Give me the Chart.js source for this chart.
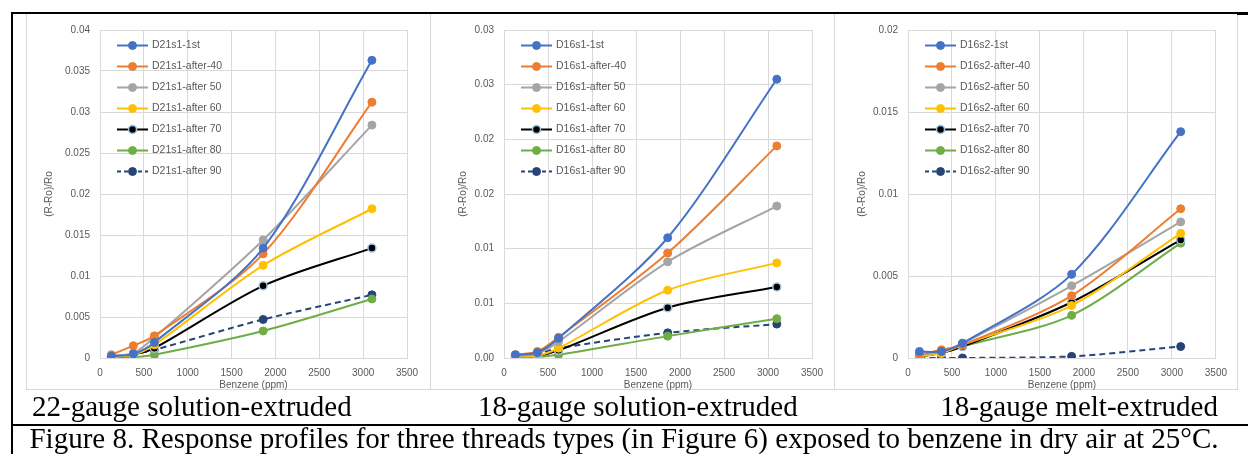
<!DOCTYPE html>
<html>
<head>
<meta charset="utf-8">
<script src="https://cdn.jsdelivr.net/npm/chart.js@4"></script>
<style>
  html, body { margin: 0; padding: 0; background: #fff; }
  #page { position: relative; width: 1248px; height: 454px; overflow: hidden; background: #fff; }
  .panel { position: absolute; top: 13px; height: 377px; box-sizing: border-box; border: 1px solid #d9d9d9; }
  .panel.joined { border-left: none; }
  .panel canvas { position: absolute; left: 0; top: 0; }
  .rule { position: absolute; background: #000; }
  .cap { position: absolute; font-family: "Liberation Serif", "Times New Roman", serif; color: #000;
         white-space: nowrap; font-size: 29px; line-height: 29px; }
</style>
</head>
<body>
<div id="page">
  <div class="panel" style="left:26px;width:405px;"><canvas id="c1"></canvas></div>
  <div class="panel joined" style="left:431px;width:404px;"><canvas id="c2"></canvas></div>
  <div class="panel joined" style="left:835px;width:403px;"><canvas id="c3"></canvas></div>

  <div class="rule" style="left:11px;top:12px;width:1237px;height:2px;"></div>
  <div class="rule" style="left:1237px;top:12px;width:11px;height:3px;"></div>
  <div class="rule" style="left:11px;top:12px;width:2px;height:442px;"></div>
  <div class="rule" style="left:11px;top:424px;width:1237px;height:2px;"></div>

  <div class="cap" style="left:32px;top:392px;">22-gauge solution-extruded</div>
  <div class="cap" style="left:478px;top:392px;">18-gauge solution-extruded</div>
  <div class="cap" style="right:30px;top:392px;">18-gauge melt-extruded</div>
  <div class="cap" style="left:0;width:1248px;top:424px;text-align:center;">Figure 8. Response profiles for three threads types (in Figure 6) exposed to benzene in dry air at 25°C.</div>
</div>

<script>
// benzene concentration (ppm), shared by all three threads
const benzenePpm = [130, 380, 620, 1860, 3100];

const xTicks = [0, 500, 1000, 1500, 2000, 2500, 3000, 3500];
const seriesNames = ['1st', 'after-40', 'after 50', 'after 60', 'after 70', 'after 80', 'after 90'];

// 22-gauge solution-extruded (D21s1)
const d21s1_1st = [0.0002, 0.0005, 0.0019, 0.0134, 0.0363];
const d21s1_40 = [0.0004, 0.0015, 0.0027, 0.0127, 0.0312];
const d21s1_50 = [0.0003, 0.0006, 0.0025, 0.0144, 0.0284];
const d21s1_60 = [0.0001, 0.0004, 0.0016, 0.0113, 0.0182];
const d21s1_70 = [0.0001, 0.0004, 0.0012, 0.0088, 0.0134];
const d21s1_80 = [0.0000, 0.0001, 0.0004, 0.0033, 0.0072];
const d21s1_90 = [0.0001, 0.0005, 0.0010, 0.0047, 0.0077];

// 18-gauge solution-extruded (D16s1)
const d16s1_1st = [0.0003, 0.0005, 0.0018, 0.0110, 0.0255];
const d16s1_40 = [0.0003, 0.0006, 0.0019, 0.0096, 0.0194];
const d16s1_50 = [0.0002, 0.0004, 0.0015, 0.0088, 0.0139];
const d16s1_60 = [0.0001, 0.0002, 0.0009, 0.0062, 0.0087];
const d16s1_70 = [0.0001, 0.0002, 0.0007, 0.0046, 0.0065];
const d16s1_80 = [0.0000, 0.0001, 0.0003, 0.0020, 0.0036];
const d16s1_90 = [0.0002, 0.0004, 0.0009, 0.0023, 0.0031];

// 18-gauge melt-extruded (D16s2)
const d16s2_1st = [0.0004, 0.0004, 0.0009, 0.0051, 0.0138];
const d16s2_40 = [0.0002, 0.0005, 0.0008, 0.0038, 0.0091];
const d16s2_50 = [0.0002, 0.0004, 0.0009, 0.0044, 0.0083];
const d16s2_60 = [0.0001, 0.0003, 0.0008, 0.0032, 0.0076];
const d16s2_70 = [0.0001, 0.0003, 0.0007, 0.0034, 0.0072];
const d16s2_80 = [0.0001, 0.0003, 0.0007, 0.0026, 0.0070];
const d16s2_90 = [0.0000, 0.0000, 0.0000, 0.0001, 0.0007];

const colors = ['#4472c4', '#ed7d31', '#a5a5a5', '#ffc000', '#000000', '#70ad47', '#264478'];

const labelColor = '#595959';
const gridColor = '#d9d9d9';

function makeDatasets(prefix, seriesList) {
    return seriesList.map((values, i) => {
        const isBlack = i === 4;
        const isDashed = i === 6;
        return {
            label: prefix + '-' + seriesNames[i],
            data: values.map((v, j) => ({ x: benzenePpm[j], y: v })),
            borderColor: colors[i],
            backgroundColor: colors[i],
            pointBackgroundColor: colors[i],
            pointBorderColor: isBlack ? '#9dc3e6' : colors[i],
            pointBorderWidth: isBlack ? 1.5 : 1,
            pointRadius: 4,
            borderWidth: 2,
            borderDash: isDashed ? [6, 4] : [],
            tension: 0.3,
            fill: false,
        };
    });
}

// legend drawn inside the plot area, top-left
const innerLegend = {
    id: 'innerLegend',
    afterDraw(chart) {
        const ctx = chart.ctx;
        const area = chart.chartArea;
        const x0 = area.left + 17;
        ctx.save();
        chart.data.datasets.forEach((ds, i) => {
            const y = area.top + 15.5 + i * 21;
            ctx.beginPath();
            ctx.setLineDash(ds.borderDash.length ? [4, 3] : []);
            ctx.strokeStyle = ds.borderColor;
            ctx.lineWidth = 2;
            ctx.moveTo(x0, y);
            ctx.lineTo(x0 + 31, y);
            ctx.stroke();
            ctx.setLineDash([]);
            ctx.beginPath();
            ctx.arc(x0 + 15.5, y, 4, 0, Math.PI * 2);
            ctx.fillStyle = ds.pointBackgroundColor;
            ctx.fill();
            ctx.lineWidth = ds.pointBorderWidth;
            ctx.strokeStyle = ds.pointBorderColor;
            ctx.stroke();
            ctx.fillStyle = labelColor;
            ctx.font = '10.5px "Liberation Sans", Arial, sans-serif';
            ctx.textBaseline = 'middle';
            ctx.textAlign = 'left';
            ctx.fillText(ds.label, x0 + 35, y);
        });
        ctx.restore();
    }
};

function plotPanel(canvasId, width, prefix, seriesList, yMax, yFormat, padRight, titlePad) {
    const canvas = document.getElementById(canvasId);
    canvas.width = width;
    canvas.height = 377;
    canvas.style.width = width + 'px';
    canvas.style.height = '377px';

    const tickFont = { family: '"Liberation Sans", Arial, sans-serif', size: 10 };

    const config = {
        type: 'line',
        data: { datasets: makeDatasets(prefix, seriesList) },
        options: {
            responsive: false,
            animation: false,
            devicePixelRatio: 1,
            layout: { padding: { top: 13, right: padRight, left: 0, bottom: 0 } },
            plugins: {
                legend: { display: false },
                tooltip: { enabled: false },
            },
            scales: {
                x: {
                    type: 'linear',
                    min: xTicks[0],
                    max: xTicks[xTicks.length - 1],
                    afterBuildTicks: (scale) => { scale.ticks = xTicks.map(v => ({ value: v })); },
                    afterFit: (scale) => { scale.height = 33; },
                    grid: { color: gridColor, drawTicks: false },
                    border: { color: gridColor },
                    ticks: {
                        color: labelColor,
                        font: tickFont,
                        padding: 9,
                        maxRotation: 0,
                        callback: (v) => String(v),
                    },
                    title: {
                        display: true,
                        text: 'Benzene (ppm)',
                        color: labelColor,
                        font: tickFont,
                        padding: { top: 0, bottom: 0 },
                    },
                },
                y: {
                    min: 0,
                    max: yMax,
                    afterFit: (scale) => { scale.width = 73; },
                    grid: { color: gridColor, drawTicks: false },
                    border: { display: false },
                    ticks: {
                        stepSize: 0.005,
                        color: labelColor,
                        font: tickFont,
                        padding: 10,
                        callback: yFormat,
                    },
                    title: {
                        display: true,
                        text: '(R-Ro)/Ro',
                        color: labelColor,
                        font: tickFont,
                        padding: { top: titlePad, bottom: 0 },
                    },
                },
            },
        },
        plugins: [innerLegend],
    };
    return new Chart(canvas, config);
}

const plainFormat = (v) => String(+v.toFixed(4));
const twoDecimals = (v) => (Math.round(v * 100 + 1e-9) / 100).toFixed(2);

plotPanel('c1', 402, 'D21s1',
    [d21s1_1st, d21s1_40, d21s1_50, d21s1_60, d21s1_70, d21s1_80, d21s1_90],
    0.04, plainFormat, 22, 16);
plotPanel('c2', 402, 'D16s1',
    [d16s1_1st, d16s1_40, d16s1_50, d16s1_60, d16s1_70, d16s1_80, d16s1_90],
    0.03, twoDecimals, 21, 26);
plotPanel('c3', 401, 'D16s2',
    [d16s2_1st, d16s2_40, d16s2_50, d16s2_60, d16s2_70, d16s2_80, d16s2_90],
    0.02, plainFormat, 11, 21);
</script>
</body>
</html>
